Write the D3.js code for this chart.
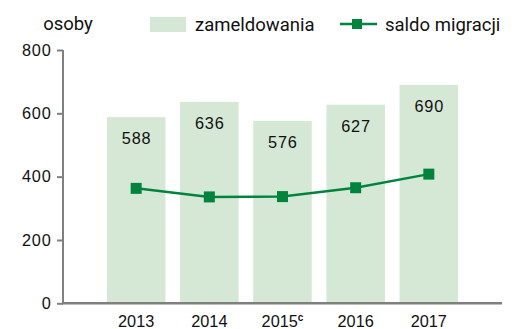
<!DOCTYPE html>
<html>
<head>
<meta charset="utf-8">
<script src="https://cdn.jsdelivr.net/npm/d3@7"></script>
<style>
  html, body { margin: 0; padding: 0; background: #fff; }
  svg { display: block; }
</style>
</head>
<body>
<svg id="chart" width="516" height="329"></svg>
<script>
// Registrations (bars) and net migration (line), persons per year
const years = ["2013", "2014", "2015", "2016", "2017"];
const yearNotes = ["", "", "c", "", ""];
const zameldowania = [588, 636, 576, 627, 690];
const saldoMigracji = [363, 336, 337, 365, 408];
const yTicks = [0, 200, 400, 600, 800];

const barColor = "#d5e8d5";
const lineColor = "#00843d";
const axisColor = "#808080";
const numFont = "'Liberation Sans', Arial, sans-serif";
const legendFont = "Roboto, 'Liberation Sans', sans-serif";

const svg = d3.select("#chart");

const y = d3.scaleLinear().domain([0, 800]).range([303.3, 50]);
const x = d3.scaleBand().domain(years).range([99.6, 465.4])
  .paddingInner(0.2).paddingOuter(0.1);

// bars
svg.append("g").selectAll("rect").data(years).join("rect")
  .attr("x", d => x(d))
  .attr("width", x.bandwidth())
  .attr("y", (d, i) => y(zameldowania[i]))
  .attr("height", (d, i) => y(0) - y(zameldowania[i]))
  .attr("fill", barColor);

// value labels inside bars
svg.append("g").selectAll("text").data(years).join("text")
  .attr("x", d => x(d) + x.bandwidth() / 2 + 0.4)
  .attr("y", (d, i) => y(zameldowania[i]) + 27)
  .attr("text-anchor", "middle")
  .attr("font-family", numFont)
  .attr("font-size", 16.3)
  .attr("letter-spacing", 0.8)
  .attr("fill", "#111")
  .text((d, i) => zameldowania[i]);

// y axis
const yAxis = svg.append("g")
  .attr("transform", "translate(63,0)")
  .call(d3.axisLeft(y).tickValues(yTicks).tickSize(6).tickSizeOuter(0).tickPadding(5));
yAxis.select(".domain").attr("stroke", axisColor).attr("stroke-width", 2)
  .attr("d", `M0,${y(800)}V${y(0)}`);
yAxis.selectAll(".tick line").attr("stroke", axisColor).attr("stroke-width", 2);
yAxis.selectAll(".tick text")
  .attr("x", -11.5)
  .attr("font-family", numFont).attr("font-size", 16.3)
  .attr("letter-spacing", 0.8).attr("fill", "#111");

// x axis baseline
svg.append("line")
  .attr("x1", 62).attr("x2", 502)
  .attr("y1", y(0)).attr("y2", y(0))
  .attr("stroke", axisColor).attr("stroke-width", 2.5);

// x labels
const xl = svg.append("g").selectAll("text").data(years).join("text")
  .attr("x", d => x(d) + x.bandwidth() / 2)
  .attr("y", 327)
  .attr("text-anchor", "middle")
  .attr("font-family", numFont)
  .attr("font-size", 16.3)
  .attr("fill", "#111");
xl.append("tspan").text(d => d);
xl.append("tspan")
  .attr("font-size", 10).attr("dy", -6).attr("font-weight", "bold")
  .text((d, i) => yearNotes[i]);

// net migration line
const pts = years.map((d, i) => [x(d) + x.bandwidth() / 2, y(saldoMigracji[i])]);
svg.append("path")
  .attr("d", d3.line()(pts))
  .attr("fill", "none")
  .attr("stroke", lineColor)
  .attr("stroke-width", 2.5);
svg.append("g").selectAll("rect").data(pts).join("rect")
  .attr("x", d => d[0] - 5.5).attr("y", d => d[1] - 5.5)
  .attr("width", 11).attr("height", 11)
  .attr("fill", lineColor);

// unit label
svg.append("text")
  .attr("x", 68).attr("y", 30)
  .attr("text-anchor", "middle")
  .attr("font-family", legendFont).attr("font-size", 18.5).attr("fill", "#111")
  .text("osoby");

// legend
const lg = svg.append("g");
lg.append("rect").attr("x", 150).attr("y", 17).attr("width", 36).attr("height", 15)
  .attr("fill", barColor);
lg.append("text").attr("x", 195).attr("y", 31)
  .attr("font-family", legendFont).attr("font-size", 18.5).attr("fill", "#111")
  .text("zameldowania");
lg.append("line").attr("x1", 340).attr("x2", 377).attr("y1", 24).attr("y2", 24)
  .attr("stroke", lineColor).attr("stroke-width", 2.5);
lg.append("rect").attr("x", 352).attr("y", 19).attr("width", 10).attr("height", 10)
  .attr("fill", lineColor);
lg.append("text").attr("x", 385).attr("y", 31)
  .attr("font-family", legendFont).attr("font-size", 18.5).attr("fill", "#111")
  .text("saldo migracji");
</script>
</body>
</html>
